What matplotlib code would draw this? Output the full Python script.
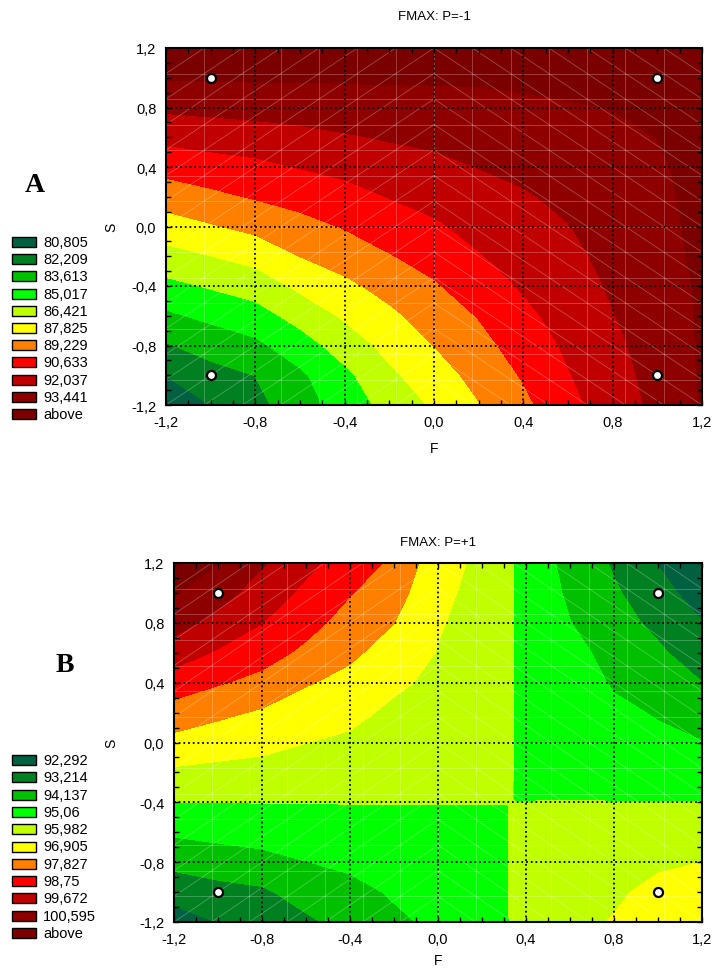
import numpy as np
import matplotlib
matplotlib.use('Agg')
import matplotlib.pyplot as plt
from matplotlib.patches import Rectangle
from matplotlib.collections import LineCollection
from matplotlib.ticker import MultipleLocator

plt.rcParams['font.family'] = ['Liberation Sans', 'DejaVu Sans']

# ---- data ----
# design points (F, S)
design_F = [-1, 1, -1, 1]
design_S = [1, 1, -1, -1]

# legend levels (upper bound of each colour band, last band = "above")
levels_top = [80.805, 82.209, 83.613, 85.017, 86.421, 87.825, 89.229, 90.633, 92.037, 93.441]
levels_bot = [92.292, 93.214, 94.137, 95.06, 95.982, 96.905, 97.827, 98.75, 99.672, 100.595]

band_colors = ['#006040', '#008020', '#00C000', '#00FF00', '#C0FF00', '#FFFF00',
               '#FF8000', '#FF0000', '#C00000', '#8E0000', '#7A0000']

# P=-1 surface, estimated on a 0.2 grid; one list per F column, S from -1.2 to 1.2
F_top = [-1.2, -1.0, -0.8, -0.6, -0.4, -0.2, 0.0, 0.2, 0.4, 0.6, 0.8, 1.0, 1.2]
S_top = [-1.2, -1.0, -0.8, -0.6, -0.4, -0.2, 0.0, 0.2, 0.4, 0.6, 0.8, 1.0, 1.2]
fmax_top_by_F = [
    [79.53, 80.82, 82.08, 83.36, 84.63, 85.91, 87.19, 88.44, 89.68, 90.97, 92.29, 93.56, 94.00],
    [80.80, 81.71, 82.74, 83.92, 85.14, 86.39, 87.69, 88.90, 90.03, 91.19, 92.42, 93.56, 93.90],
    [81.81, 82.22, 83.29, 84.43, 85.63, 86.89, 88.18, 89.33, 90.29, 91.39, 92.52, 93.59, 93.95],
    [82.97, 83.35, 84.37, 85.51, 86.70, 87.83, 88.76, 89.71, 90.68, 91.65, 92.60, 93.57, 93.95],
    [84.25, 84.68, 85.65, 86.60, 87.51, 88.41, 89.31, 90.14, 90.99, 91.90, 92.76, 93.60, 93.95],
    [85.47, 86.15, 86.83, 87.52, 88.29, 89.14, 89.91, 90.67, 91.41, 92.15, 92.88, 93.60, 94.00],
    [86.60, 87.18, 87.83, 88.45, 89.07, 89.74, 90.43, 91.07, 91.69, 92.32, 92.96, 93.59, 94.00],
    [87.75, 88.26, 88.77, 89.29, 89.92, 90.54, 91.06, 91.56, 92.06, 92.57, 93.08, 93.59, 94.00],
    [88.87, 89.35, 89.83, 90.32, 90.77, 91.15, 91.53, 91.90, 92.33, 92.77, 93.22, 93.66, 94.00],
    [90.26, 90.55, 90.84, 91.13, 91.42, 91.70, 91.99, 92.33, 92.67, 93.01, 93.36, 93.70, 94.00],
    [91.25, 91.49, 91.73, 91.98, 92.19, 92.40, 92.62, 92.83, 93.04, 93.25, 93.46, 93.70, 94.00],
    [92.39, 92.51, 92.63, 92.74, 92.86, 92.98, 93.09, 93.21, 93.33, 93.45, 93.60, 93.80, 94.05],
    [93.53, 93.57, 93.58, 93.59, 93.60, 93.69, 93.73, 93.75, 93.70, 93.80, 93.90, 94.00, 94.15],
]

# P=+1 surface; extra rows/columns where the map has sharp steps; one list per S row
F_bot = [-1.2, -1.0, -0.8, -0.6, -0.4, -0.2, 0.0, 0.2, 0.31, 0.35, 0.6, 0.8, 1.0, 1.2]
S_bot = [-1.2, -1.0, -0.8, -0.6, -0.42, -0.38, -0.2, 0.0, 0.2, 0.4, 0.6, 0.8, 1.0, 1.2]
fmax_bot_by_S = [
    [91.85, 92.30, 92.33, 93.05, 93.52, 93.93, 94.35, 94.70, 94.90, 95.35, 95.75, 96.03, 96.50, 96.60],
    [92.65, 92.92, 93.07, 93.57, 93.80, 94.25, 94.60, 94.85, 94.95, 95.30, 95.60, 95.85, 96.20, 96.30],
    [93.45, 93.64, 93.80, 94.11, 94.35, 94.60, 94.80, 94.95, 95.00, 95.25, 95.50, 95.65, 95.85, 95.98],
    [94.26, 94.41, 94.55, 94.70, 94.80, 94.90, 94.95, 95.00, 95.00, 95.20, 95.40, 95.50, 95.60, 95.70],
    [94.95, 94.95, 95.00, 95.00, 95.02, 95.02, 95.02, 95.02, 95.02, 95.15, 95.30, 95.35, 95.40, 95.45],
    [95.15, 95.15, 95.15, 95.15, 95.20, 95.20, 95.20, 95.20, 95.20, 95.00, 95.00, 94.90, 94.80, 94.75],
    [95.82, 95.73, 95.67, 95.50, 95.50, 95.35, 95.30, 95.25, 95.25, 95.00, 95.00, 94.80, 94.60, 94.50],
    [96.62, 96.39, 96.23, 95.99, 95.81, 95.55, 95.45, 95.30, 95.30, 95.00, 94.95, 94.60, 94.35, 94.16],
    [97.45, 97.09, 96.79, 96.47, 96.23, 95.78, 95.60, 95.40, 95.35, 95.00, 94.85, 94.35, 94.05, 93.68],
    [98.29, 97.90, 97.55, 96.97, 96.65, 96.16, 95.75, 95.45, 95.40, 95.00, 94.70, 94.02, 93.70, 93.22],
    [99.21, 98.64, 98.19, 97.63, 97.06, 96.53, 95.94, 95.55, 95.45, 94.98, 94.45, 93.79, 93.35, 92.74],
    [100.02, 99.38, 98.76, 98.12, 97.47, 96.91, 96.05, 95.65, 95.50, 94.95, 94.15, 93.56, 92.99, 92.31],
    [100.66, 100.02, 99.25, 98.54, 97.87, 97.28, 96.15, 95.75, 95.60, 94.90, 94.00, 93.33, 92.62, 91.86],
    [101.20, 100.60, 99.76, 98.98, 98.27, 97.66, 96.30, 95.80, 95.70, 94.85, 93.88, 93.10, 92.25, 91.41],
]

tick_vals = [-1.2, -0.8, -0.4, 0.0, 0.4, 0.8, 1.2]
tick_labels = ['-1,2', '-0,8', '-0,4', '0,0', '0,4', '0,8', '1,2']


def draw_mesh(ax):
    """faint triangulated surface mesh drawn over the colour bands"""
    g = np.linspace(-1.2, 1.2, 15)
    segs = []
    for v in g:
        segs.append([(v, -1.2), (v, 1.2)])
        segs.append([(-1.2, v), (1.2, v)])
    for i in range(len(g) - 1):
        for j in range(len(g) - 1):
            if (g[i] + g[i + 1]) / 2 < 0:
                segs.append([(g[i], g[j]), (g[i + 1], g[j + 1])])
            else:
                segs.append([(g[i], g[j + 1]), (g[i + 1], g[j])])
    lc = LineCollection(segs, colors='white', alpha=0.28, linewidths=0.6, zorder=1.5)
    ax.add_collection(lc)


def contour_panel(ax, F, S, Z, levels, title, title_pad, ylab_x, xlab_y):
    bounds = [60.0] + list(levels) + [120.0]
    cs = ax.contourf(F, S, Z, levels=bounds, colors=band_colors, zorder=1)
    cs.set_edgecolor('face')
    cs.set_linewidth(0.4)
    draw_mesh(ax)
    ax.plot(design_F, design_S, 'o', ms=6.5, mfc='white', mec='black', mew=1.6,
            zorder=4, clip_on=False)
    ax.set_xlim(-1.2, 1.2)
    ax.set_ylim(-1.2, 1.2)
    ax.set_xticks(tick_vals)
    ax.set_yticks(tick_vals)
    ax.set_xticklabels(tick_labels)
    ax.set_yticklabels(tick_labels)
    ax.xaxis.set_minor_locator(MultipleLocator(0.1))
    ax.yaxis.set_minor_locator(MultipleLocator(0.1))
    ax.tick_params(which='both', direction='in', top=True, right=True,
                   length=3.5, width=1, labelsize=10.5, pad=7)
    ax.set_axisbelow(False)
    ax.grid(True, which='major', color='black', linestyle=(0, (1, 1.6)), linewidth=1.3)
    for sp in ax.spines.values():
        sp.set_linewidth(1.5)
    ax.set_title(title, fontsize=9.5, pad=title_pad)
    ax.set_xlabel('F', fontsize=10)
    ax.set_ylabel('S', fontsize=10)
    ax.xaxis.set_label_coords(0.5, xlab_y)
    ax.yaxis.set_label_coords(ylab_x, 0.5)


def legend_column(fig, levels, y0, step):
    W, H = 712.0, 970.0
    names = [str(v).replace('.', ',') for v in levels] + ['above']
    for k, (name, col) in enumerate(zip(names, band_colors)):
        yc = y0 + k * step
        fig.add_artist(Rectangle((12 / W, 1 - (yc + 5) / H), 24 / W, 10 / H,
                                 transform=fig.transFigure, facecolor=col,
                                 edgecolor='black', linewidth=1.0))
        fig.text(43 / W, 1 - yc / H, name, fontsize=10.5, va='center', ha='left')


fig = plt.figure(figsize=(7.12, 9.70), dpi=100)

ax_top = fig.add_axes([166 / 712, 1 - 406 / 970, 536 / 712, 357 / 970])
Z_top = np.array(fmax_top_by_F).T
contour_panel(ax_top, F_top, S_top, Z_top, levels_top, 'FMAX: P=-1', 21,
              (118 - 166) / 536, -0.100)

ax_bot = fig.add_axes([174 / 712, 1 - 923 / 970, 528 / 712, 359 / 970])
Z_bot = np.array(fmax_bot_by_S)
contour_panel(ax_bot, F_bot, S_bot, Z_bot, levels_bot, 'FMAX: P=+1', 13,
              (118 - 174) / 528, -0.086)

legend_column(fig, levels_top, 243, 17.2)
legend_column(fig, levels_bot, 761, 17.3)

fig.text(35 / 712, 1 - 185 / 970, 'A', fontsize=20, fontweight='bold',
         family='Liberation Serif', ha='center', va='center')
fig.text(65 / 712, 1 - 665 / 970, 'B', fontsize=20, fontweight='bold',
         family='Liberation Serif', ha='center', va='center')

fig.savefig('out.png', dpi=100)
